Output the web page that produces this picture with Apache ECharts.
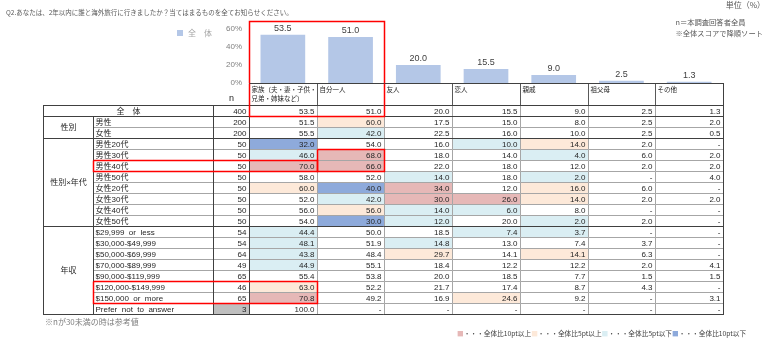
<!DOCTYPE html>
<html><head><meta charset="utf-8">
<script src="https://cdn.jsdelivr.net/npm/echarts@6/dist/echarts.min.js"></script>
<style>html,body{margin:0;padding:0;background:#fff}#c{width:780px;height:342px}</style>
</head><body><div id="c"></div>
<script>
// ---------------- data ----------------
const categories = ['家族（夫・妻・子供・\n兄弟・姉妹など）','自分一人','友人','恋人','親戚','祖父母','その他'];
const yTicks = [0, 20, 40, 60];
const rowLabels = ['全　体','男性','女性','男性20代','男性30代','男性40代','男性50代','女性20代','女性30代','女性40代','女性50代',
  '$29,999  or  less','$30,000-$49,999','$50,000-$69,999','$70,000-$89,999','$90,000-$119,999','$120,000-$149,999','$150,000  or  more','Prefer  not  to  answer'];
const groupNames = ['性別','性別×年代','年収'];
const groupSizes = [2, 8, 8];
const nValues = [400,200,200,50,50,50,50,50,50,50,50,54,54,64,49,65,46,65,3];
const familyValues   = [53.5,51.5,55.5,32.0,46.0,70.0,58.0,60.0,52.0,56.0,54.0,44.4,48.1,43.8,44.9,55.4,63.0,70.8,100.0];
const aloneValues    = [51.0,60.0,42.0,54.0,68.0,66.0,52.0,40.0,42.0,56.0,30.0,50.0,51.9,48.4,55.1,53.8,52.2,49.2,null];
const friendValues   = [20.0,17.5,22.5,16.0,18.0,22.0,14.0,34.0,30.0,14.0,12.0,18.5,14.8,29.7,18.4,20.0,21.7,16.9,null];
const loverValues    = [15.5,15.0,16.0,10.0,14.0,18.0,18.0,12.0,26.0,6.0,20.0,7.4,13.0,14.1,12.2,18.5,17.4,24.6,null];
const relativeValues = [9.0,8.0,10.0,14.0,4.0,12.0,2.0,16.0,14.0,8.0,2.0,3.7,7.4,14.1,12.2,7.7,8.7,9.2,null];
const grandValues    = [2.5,2.5,2.5,2.0,6.0,2.0,null,6.0,2.0,null,2.0,null,3.7,6.3,2.0,1.5,4.3,null,null];
const otherValues    = [1.3,2.0,0.5,null,2.0,2.0,4.0,null,2.0,null,null,null,null,null,4.1,1.5,null,3.1,null];
const columns = [familyValues, aloneValues, friendValues, loverValues, relativeValues, grandValues, otherValues];

// ---------------- layout / style ----------------
const FONT = "'Liberation Sans','Noto Sans CJK JP',sans-serif";
const JFONT = "'Noto Sans CJK JP',sans-serif";
const RED = '#e6b8b7', ORANGE = '#fde9d9', LBLUE = '#daeef3', BLUE = '#8eaadb', GRAY = '#bfbfbf';
const GRID_LINE = '#a6a6a6', DARK = '#404040', BOX = '#ff0000';
const X_LABEL = 50, X_N = 170, X_DATA = 206, X_END = 680;
const DATA_W = (X_END - X_DATA) / 7;
const dataX = j => X_DATA + j * DATA_W;
const ROW0 = 2; // two header rows
const NROWS = ROW0 + rowLabels.length;

function cellColor(v, base) {
  const d = Math.round(((v == null ? 0 : v) - base) * 10) / 10;
  if (d >= 10) return RED;
  if (d >= 5) return ORANGE;
  if (d <= -10) return BLUE;
  if (d <= -5) return LBLUE;
  return '#ffffff';
}

// ---------------- table cells ----------------
const cells = [];
categories.forEach((c, j) => cells.push({x0: dataX(j), x1: dataX(j + 1), r0: 0, r1: 1, text: c, align: 'left', valign: 'top', fill: '#fff', stroke: '#595959', fs: 6.5, lh: 9}));
cells.push({x0: X_N, x1: X_DATA, r0: 0, r1: 1, text: 'n', align: 'center', valign: 'bottom', fill: 'none', stroke: null, fs: 9});
cells.push({x0: 0, x1: X_N, r0: ROW0, r1: ROW0, text: rowLabels[0], align: 'center', fill: '#fff', stroke: null, fs: 8});
let gStart = 1;
groupNames.forEach((g, k) => {
  cells.push({x0: 0, x1: X_LABEL, r0: ROW0 + gStart, r1: ROW0 + gStart + groupSizes[k] - 1, text: g, align: 'center', fill: '#fff', stroke: null, fs: 8});
  gStart += groupSizes[k];
});
for (let i = 1; i < rowLabels.length; i++) {
  cells.push({x0: X_LABEL, x1: X_N, r0: ROW0 + i, r1: ROW0 + i, text: rowLabels[i], align: 'left', fill: '#fff', stroke: GRID_LINE, fs: 8});
}
for (let i = 0; i < nValues.length; i++) {
  cells.push({x0: X_N, x1: X_DATA, r0: ROW0 + i, r1: ROW0 + i, text: String(nValues[i]), align: 'right', fill: nValues[i] < 30 ? GRAY : '#fff', stroke: GRID_LINE, fs: 8});
}
columns.forEach((col, j) => {
  col.forEach((v, i) => {
    const fill = (i === 0 || nValues[i] < 30) ? '#fff' : cellColor(v, col[0]);
    cells.push({x0: dataX(j), x1: dataX(j + 1), r0: ROW0 + i, r1: ROW0 + i, text: v == null ? '-' : v.toFixed(1), align: 'right', fill, stroke: GRID_LINE, fs: 8});
  });
});

// dark structure lines
const hLines = [
  [X_DATA, X_END, 0, 0], [0, X_END, ROW0, 0], [0, X_END, ROW0 + 1, 0], [0, X_END, ROW0 + 3, 0],
  [0, X_END, ROW0 + 11, 0], [0, X_END, NROWS - 1, 1]
];
const vLines = [
  [0, ROW0, NROWS - 1], [X_LABEL, ROW0 + 1, NROWS - 1], [X_N, ROW0, NROWS - 1], [X_DATA, 0, NROWS - 1], [X_END, 0, NROWS - 1]
];
// red annotation boxes (open-top flag)
const boxes = [
  [X_DATA, 0, dataX(2), ROW0, 1],
  [dataX(1), ROW0 + 4, dataX(2), ROW0 + 5, 0],
  [X_LABEL, ROW0 + 5, dataX(1), ROW0 + 5, 0],
  [X_LABEL, ROW0 + 16, dataX(1), ROW0 + 17, 0]
];
const BOX_TOP_VALUE = 69;

const crisp = v => Math.round(v) + 0.5;
function rowEdge(api, r, bottom) {
  const bh = api.size([0, 1])[1];
  const c = api.coord([0, r])[1];
  return bottom ? c + bh / 2 : c - bh / 2;
}

function renderCell(params, api) {
  const c = cells[params.dataIndex];
  const x = crisp(api.coord([api.value(0), 0])[0]);
  const x2 = crisp(api.coord([api.value(2), 0])[0]);
  const y = crisp(rowEdge(api, api.value(1), false));
  const y2 = crisp(rowEdge(api, api.value(3), true));
  const tx = c.align === 'left' ? x + 2 : c.align === 'right' ? x2 - 3 : (x + x2) / 2;
  const ty = c.valign === 'top' ? y + 2 : c.valign === 'bottom' ? y2 - 1 : (y + y2) / 2 + 0.5;
  return {type: 'group', children: [
    {type: 'rect', shape: {x, y, width: x2 - x, height: y2 - y}, style: {fill: c.fill, stroke: c.stroke || 'none', lineWidth: 1}},
    {type: 'text', x: tx, y: ty, style: {text: c.text, align: c.align, verticalAlign: c.valign || 'middle', fontSize: c.fs, fontFamily: FONT, fill: '#262626', lineHeight: c.lh || c.fs + 2}}
  ]};
}
function renderHLine(params, api) {
  const x = api.coord([api.value(0), 0])[0], x2 = api.coord([api.value(1), 0])[0];
  const y = crisp(rowEdge(api, api.value(2), api.value(3) === 1));
  return {type: 'line', shape: {x1: Math.round(x), y1: y, x2: Math.round(x2) + 1, y2: y}, style: {stroke: DARK, lineWidth: 1}};
}
function renderVLine(params, api) {
  const x = crisp(api.coord([api.value(0), 0])[0]);
  const y = rowEdge(api, api.value(1), false), y2 = rowEdge(api, api.value(2), true);
  return {type: 'line', shape: {x1: x, y1: Math.round(y), x2: x, y2: Math.round(y2) + 1}, style: {stroke: DARK, lineWidth: 1}};
}
function renderBox(params, api) {
  const x = crisp(api.coord([api.value(0), 0])[0]), x2 = crisp(api.coord([api.value(2), 0])[0]);
  const y = crisp(rowEdge(api, api.value(1), false)), y2 = crisp(rowEdge(api, api.value(3), true));
  const pts = api.value(4) === 1 ? [[x, y], [x, y2], [x2, y2], [x2, y]] : [[x, y], [x, y2], [x2, y2], [x2, y], [x, y]];
  return {type: 'polyline', shape: {points: pts}, style: {stroke: BOX, lineWidth: 1.5, fill: 'none'}};
}
function renderBarBox(params, api) {
  const bw = api.size([1, 0])[0];
  const x = crisp(api.coord([api.value(0), 0])[0] - bw / 2);
  const x2 = crisp(api.coord([api.value(1), 0])[0] + bw / 2);
  const yTop = crisp(api.coord([0, api.value(2)])[1]);
  const yBot = api.coord([0, 0])[1];
  return {type: 'polyline', shape: {points: [[x, yBot], [x, yTop], [x2, yTop], [x2, yBot]]}, style: {stroke: BOX, lineWidth: 1.5, fill: 'none'}};
}

const chart = echarts.init(document.getElementById('c'), null, {renderer: 'canvas'});
chart.setOption({
  animation: false,
  backgroundColor: '#ffffff',
  legend: {data: ['全　体'], left: 172, top: 24, icon: 'rect', itemWidth: 6, itemHeight: 6, itemGap: 4,
    textStyle: {color: '#a6a6a6', fontSize: 8, fontFamily: JFONT}},
  grid: [
    {left: 249, top: 29, width: 474, height: 54},
    {left: 43, top: 83, width: X_END, height: 11 * NROWS}
  ],
  xAxis: [
    {type: 'category', gridIndex: 0, data: categories, axisLine: {show: false}, axisTick: {show: false}, axisLabel: {show: false}},
    {type: 'value', gridIndex: 1, min: 0, max: X_END, show: false}
  ],
  yAxis: [
    {type: 'value', gridIndex: 0, min: yTicks[0], max: yTicks[yTicks.length - 1], interval: yTicks[1] - yTicks[0],
      axisLine: {show: false}, axisTick: {show: false}, splitLine: {show: false},
      axisLabel: {formatter: '{value}%', fontSize: 8, color: '#808080', margin: 7, fontFamily: FONT}},
    {type: 'category', gridIndex: 1, inverse: true, data: Array.from({length: NROWS}, (_, i) => 'r' + i), show: false}
  ],
  series: [
    {name: '全　体', type: 'bar', xAxisIndex: 0, yAxisIndex: 0, data: columns.map(c => c[0]), barWidth: '66%',
      itemStyle: {color: '#b4c7e7'},
      label: {show: true, position: 'top', distance: 2, fontSize: 9, color: '#404040', fontFamily: FONT, formatter: p => p.value.toFixed(1)}},
    {type: 'custom', xAxisIndex: 1, yAxisIndex: 1, renderItem: renderCell, encode: {x: [0, 2], y: [1, 3]},
      data: cells.map(c => [c.x0, c.r0, c.x1, c.r1]), z: 2, silent: true},
    {type: 'custom', xAxisIndex: 1, yAxisIndex: 1, renderItem: renderHLine, encode: {x: [0, 1], y: 2}, data: hLines, z: 3, silent: true},
    {type: 'custom', xAxisIndex: 1, yAxisIndex: 1, renderItem: renderVLine, encode: {x: 0, y: [1, 2]}, data: vLines, z: 3, silent: true},
    {type: 'custom', xAxisIndex: 1, yAxisIndex: 1, renderItem: renderBox, encode: {x: [0, 2], y: [1, 3]}, data: boxes, z: 4, silent: true},
    {type: 'custom', xAxisIndex: 0, yAxisIndex: 0, renderItem: renderBarBox, encode: {x: [0, 1], y: 2}, data: [[0, 1, BOX_TOP_VALUE]], z: 4, silent: true}
  ],
  graphic: [
    {type: 'text', left: 6, top: 9, style: {text: 'Q2.あなたは、2年以内に誰と海外旅行に行きましたか？当てはまるものを全てお知らせください。', fontSize: 6.5, fontFamily: JFONT, fill: '#595959'}},
    {type: 'text', right: 15, top: 1, style: {text: '単位（%）', fontSize: 8, fontFamily: JFONT, fill: '#595959', align: 'right'}},
    {type: 'text', right: 17, top: 16, style: {text: 'n＝本調査回答者全員\n※全体スコアで降順ソート', fontSize: 7.3, lineHeight: 11.6, fontFamily: JFONT, fill: '#595959', align: 'right'}},
    {type: 'text', left: 45, top: 318, style: {text: '※nが30未満の時は参考値', fontSize: 8, fontFamily: JFONT, fill: '#7f7f7f'}},
    {type: 'text', left: 457, top: 330, style: {
      text: '{r|■}・・・全体比10pt以上{o|■}・・・全体比5pt以上{l|■}・・・全体比5pt以下{b|■}・・・全体比10pt以下',
      fontSize: 6.7, fontFamily: JFONT, fill: '#404040',
      rich: {
        r: {fill: RED, fontSize: 6.7, fontFamily: JFONT}, o: {fill: ORANGE, fontSize: 6.7, fontFamily: JFONT},
        l: {fill: LBLUE, fontSize: 6.7, fontFamily: JFONT}, b: {fill: BLUE, fontSize: 6.7, fontFamily: JFONT}
      }}}
  ]
});
</script>
</body></html>
